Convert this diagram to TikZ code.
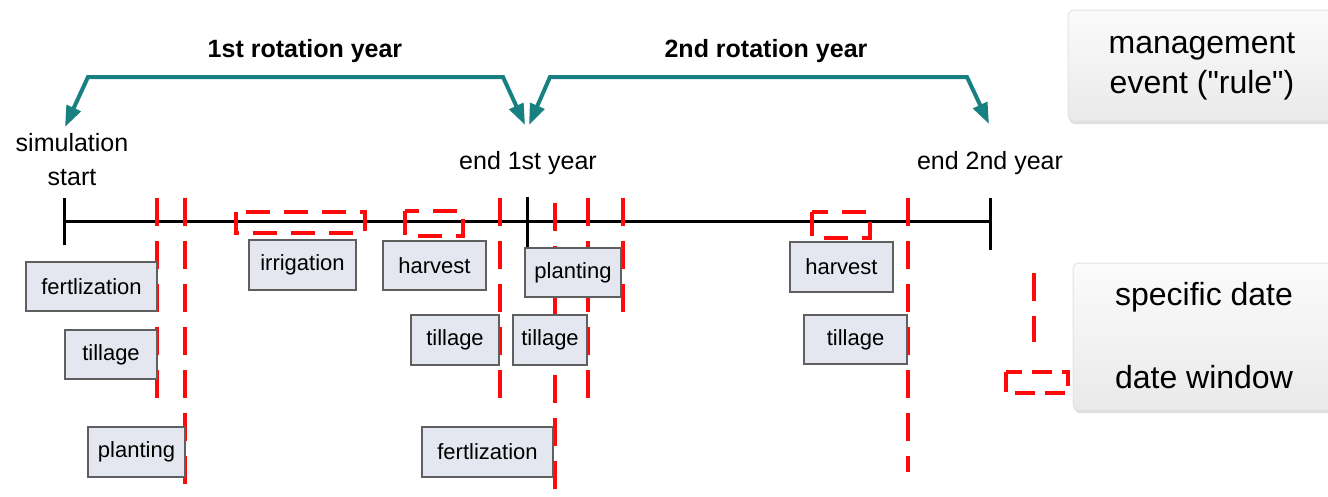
\documentclass[tikz,border=0pt]{standalone}
\usepackage{fontspec}
\setmainfont{Liberation Sans}[Ligatures=TeXOff]
\usetikzlibrary{arrows.meta,shadows}
\definecolor{boxfill}{RGB}{228,231,240}
\definecolor{boxline}{RGB}{95,95,95}
\definecolor{tealc}{RGB}{24,128,128}
\definecolor{winred}{RGB}{255,10,10}
\tikzset{
  ev/.style={draw=boxline, fill=boxfill, line width=1.5pt, inner sep=0pt,
    font=\fontsize{22}{26}\selectfont},
  datewin/.style={draw=winred, line width=3.5pt, dash pattern=on 24pt off 14pt},
  specdate/.style={draw=winred, line width=3.5pt, dash pattern=on 28pt off 15pt},
  axisline/.style={line width=3pt, black},
  rot/.style={draw=tealc, line width=4pt, line join=miter,
    {Triangle[length=21pt,width=15pt]}-{Triangle[length=21pt,width=15pt]}},
  lbl/.style={font=\fontsize{25}{34}\selectfont, align=center, inner sep=0pt},
  rotlbl/.style={font=\bfseries\fontsize{25}{30}\selectfont, inner sep=0pt},
  legendbox/.style={rounded corners=6pt, top color=gray!3, bottom color=gray!17,
    draw=gray!22, line width=1pt, drop shadow={opacity=0.25, shadow xshift=1pt, shadow yshift=-3pt}},
  legtxt/.style={font=\fontsize{32}{40}\selectfont, align=center, inner sep=0pt}
}
\begin{document}
\begin{tikzpicture}[x=1pt,y=-1pt]
\useasboundingbox (0,0) rectangle (1328,496);

% legend boxes
\path[legendbox] (1068,10) rectangle (1340,121);
\node[legtxt] (leg1) at (1202,66) {management\\event ("rule")};
\path[legendbox] (1073,263) rectangle (1340,410);
\node[legtxt] (leg2) at (1204,297) {specific date};
\node[legtxt] (leg3) at (1204,377) {date window};

% rotation arrows
\coordinate (t0) at (65,127);
\coordinate (t1a) at (525,125);
\coordinate (t1b) at (529,125);
\coordinate (t2) at (989,124);
\coordinate (c1) at (88,77);
\coordinate (c2) at (503,77);
\coordinate (c3) at (550,77);
\coordinate (c4) at (967,77);
\draw[rot] (t0) -- (c1) -- (c2) -- (t1a);
\draw[rot] (t1b) -- (c3) -- (c4) -- (t2);
\node[rotlbl] (r1) at (305,51) {1st rotation year};
\node[rotlbl] (r2) at (766,51) {2nd rotation year};

% timeline labels
\node[lbl] (ls) at (72,160) {simulation\\start};
\node[lbl] (le1) at (528,163) {end 1st year};
\node[lbl] (le2) at (990,163) {end 2nd year};

% timeline
\coordinate (a0) at (64,221);
\coordinate (a1) at (990,221);
\draw[axisline] (a0) -- (a1);
\draw[axisline] (64,198) -- (64,245);
\draw[axisline] (527,197) -- (527,248);
\draw[axisline] (990,198) -- (990,250);

% date windows
\draw[datewin] (236,212) rectangle (365,233);
\draw[datewin] (405,211) rectangle (463,236);
\draw[datewin] (812,212) rectangle (870,238);

% specific dates
\draw[specdate] (157,198) -- (157,405);
\draw[specdate] (185,198) -- (185,490);
\draw[specdate] (500,198) -- (500,405);
\draw[specdate] (555,203) -- (555,496);
\draw[specdate] (588,198) -- (588,405);
\draw[specdate] (623,198) -- (623,315);
\draw[specdate] (908,198) -- (908,472);

% legend symbols
\draw[specdate] (1034,273) -- (1034,342);
\draw[datewin, dash pattern=on 20pt off 10pt] (1006,372) rectangle (1068,393);

% events
\node[ev, minimum width=131pt, minimum height=49pt] (f1) at (91.5,286.5) {fertlization};
\node[ev, minimum width=92pt, minimum height=49pt] (tl1) at (111,354.5) {tillage};
\node[ev, minimum width=97pt, minimum height=50pt] (p1) at (136.5,452) {planting};
\node[ev, minimum width=107pt, minimum height=50pt] (irr) at (302.5,265) {irrigation};
\node[ev, minimum width=103pt, minimum height=49pt] (h1) at (434.5,265.5) {harvest};
\node[ev, minimum width=88pt, minimum height=50pt] (tl2) at (455,340) {tillage};
\node[ev, minimum width=131pt, minimum height=50pt] (f2) at (487.5,452) {fertlization};
\node[ev, minimum width=96pt, minimum height=49pt] (p2) at (573,272.5) {planting};
\node[ev, minimum width=74pt, minimum height=50pt] (tl3) at (550,340) {tillage};
\node[ev, minimum width=103pt, minimum height=50pt] (h2) at (841.5,267) {harvest};
\node[ev, minimum width=103pt, minimum height=49pt] (tl4) at (855.5,339.5) {tillage};
\end{tikzpicture}
\end{document}
